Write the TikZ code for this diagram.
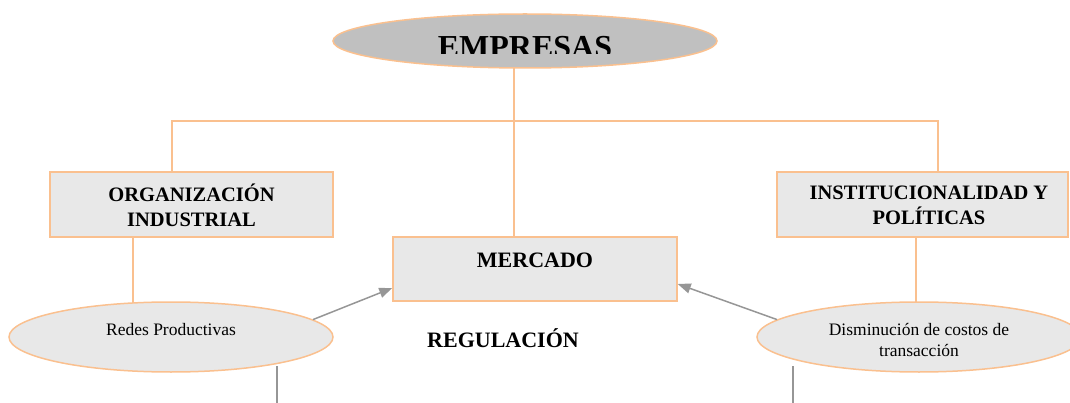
\documentclass[tikz,border=0pt]{standalone}
\usepackage{fontspec}
\setmainfont{Liberation Serif}
\usetikzlibrary{shapes.geometric,arrows.meta,calc}
\definecolor{orng}{HTML}{FAC08F}
\definecolor{boxgray}{HTML}{E8E8E8}
\definecolor{empgray}{HTML}{C0C0C0}
\definecolor{arrgray}{HTML}{969696}
\tikzset{
  oline/.style={draw=orng, line width=1.5pt},
  boxnode/.style={rectangle, draw=orng, fill=boxgray, line width=1.5pt, inner sep=0pt, align=center},
  ellnode/.style={ellipse, draw=orng, fill=boxgray, line width=1.5pt, inner sep=0pt, minimum width=324pt, minimum height=70pt},
  garrow/.style={draw=arrgray, line width=1.5pt, -{Triangle[length=13pt,width=10pt]}},
  gline/.style={draw=arrgray, line width=1.5pt},
  bigbold/.style={font=\fontsize{20.5}{25}\selectfont\bfseries, align=center},
  midbold/.style={font=\fontsize{22}{26}\selectfont\bfseries},
  small/.style={font=\fontsize{17.5}{21}\selectfont, align=center}
}
\begin{document}
\begin{tikzpicture}[x=1pt,y=-1pt]
\useasboundingbox (0,0) rectangle (1070,403);
% top ellipse
\node[ellipse, draw=orng, fill=empgray, line width=1.5pt, inner sep=0pt, minimum width=384pt, minimum height=54pt] (emp) at (525,41) {};
\begin{scope}
\clip (333,14) rectangle (717,53.5);
\node[font=\fontsize{32}{38}\selectfont\bfseries, anchor=base, inner sep=0pt] (emptext) at (525,58) {EMPRESAS};
\end{scope}
% boxes
\node[boxnode, minimum width=283pt, minimum height=65pt] (org) at (191.5,204.5) {};
\node[bigbold] (orgt) at (191.5,205.5) {ORGANIZACIÓN\\INDUSTRIAL};
\node[boxnode, minimum width=291pt, minimum height=65pt] (inst) at (922.5,204.5) {};
\node[bigbold] (instt) at (929,205.5) {INSTITUCIONALIDAD Y\\POLÍTICAS};
\node[boxnode, minimum width=284pt, minimum height=64pt] (merc) at (535,269) {};
\node[midbold] (merct) at (535,260) {MERCADO};
\node[midbold] (reg) at (503,338) {REGULACIÓN};
% ellipses
\node[ellnode] (redes) at (171,337) {};
\node[small] (redest) at (171,330) {Redes Productivas};
\node[ellnode] (dism) at (919,337) {};
\node[small] (dismt) at (919,340.5) {Disminución de costos de\\transacción};
% tree connectors
\coordinate (c0) at (514,67.5);
\coordinate (c1) at (514,121);
\coordinate (cL) at (172,121);
\coordinate (cR) at (938,121);
\draw[oline] (c0) -- (merc.north -| c0);
\draw[oline] (org.north -| cL) -- (cL) -- (cR) -- (inst.north -| cR);
\coordinate (oL) at (133,237);
\coordinate (oE) at (133,303);
\draw[oline] (oL) -- (oE);
\coordinate (iL) at (916,237);
\coordinate (iE) at (916,302.5);
\draw[oline] (iL) -- (iE);
% arrows
\draw[garrow] (redes.7) -- ($(merc.west)+(0,19)$);
\draw[garrow] (dism.173) -- ($(merc.east)+(0,15)$);
% lower grey stubs
\coordinate (s1) at (277,366);
\coordinate (s1e) at (277,403);
\coordinate (s2) at (793,366);
\coordinate (s2e) at (793,403);
\draw[gline] (s1) -- (s1e);
\draw[gline] (s2) -- (s2e);
\end{tikzpicture}
\end{document}
